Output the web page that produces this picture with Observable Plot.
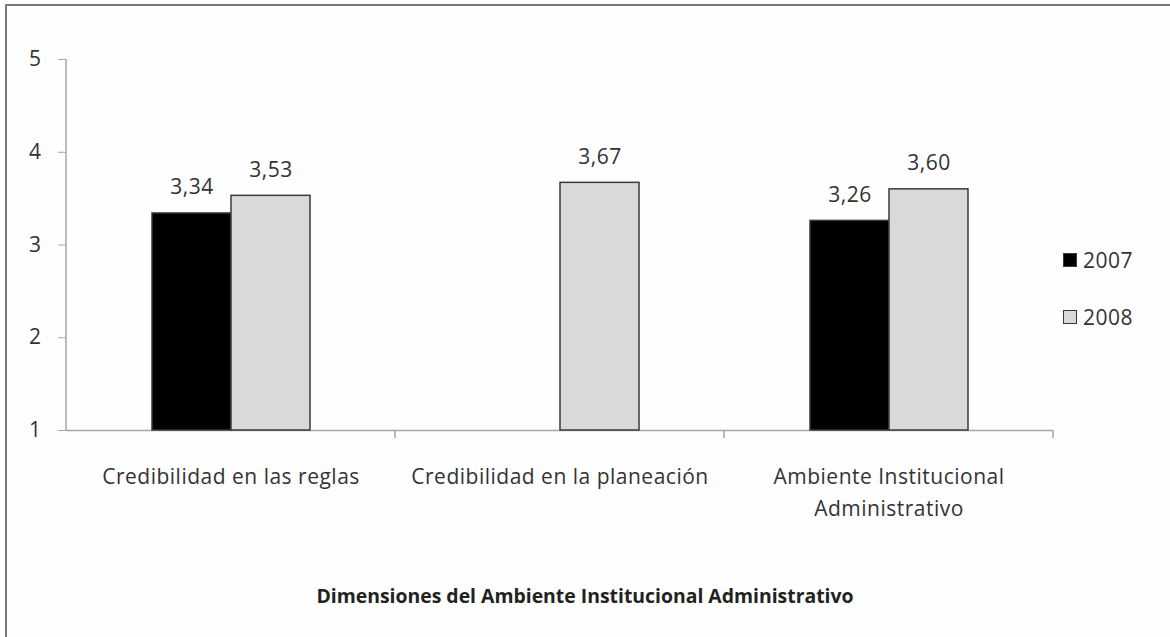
<!DOCTYPE html>
<html>
<head>
<meta charset="utf-8">
<script src="https://cdn.jsdelivr.net/npm/d3@7"></script>
<script src="https://cdn.jsdelivr.net/npm/@observablehq/plot@0.6"></script>
<style>
  html, body { margin: 0; padding: 0; background: #fefefe; }
  #wrap { position: relative; width: 1170px; height: 637px; overflow: hidden; background: #fefefe; font-family: "Open Sans", sans-serif; color: #333; }
  #border { position: absolute; left: 5px; top: 4px; width: 1200px; height: 700px; border-left: 2px solid #7a7a7a; border-top: 2px solid #7a7a7a; }
  #chart { position: absolute; left: 0; top: 0; }
  #legend { position: absolute; left: 1063px; top: 246px; font-size: 21px; letter-spacing: 0.5px; }
  .item { position: absolute; left: 0; white-space: nowrap; display: flex; align-items: center; height: 28px; }
  .sw { width: 14px; height: 14px; margin-right: 6px; box-sizing: border-box; border: 1.5px solid #3a3a3a; }
  #xtitle { position: absolute; left: 0; width: 1170px; text-align: center; top: 582px; font-size: 19.4px; font-weight: bold; color: #222; }
</style>
</head>
<body>
<div id="wrap">
  <div id="border"></div>
  <div id="chart"></div>
  <div id="legend"></div>
  <div id="xtitle"></div>
</div>
<script>
const categories = ["Credibilidad en las reglas", "Credibilidad en la planeación", "Ambiente Institucional Administrativo"];
const categoryLabels = ["Credibilidad en las reglas", "Credibilidad en la planeación", "Ambiente Institucional\nAdministrativo"];
const series = ["2007", "2008"];
const values2007 = [3.34, null, 3.26];
const values2008 = [3.53, 3.67, 3.60];
const seriesColors = ["#000000", "#d9d9d9"];
const yTicks = [1, 2, 3, 4, 5];
const yDomain = [1, 5];
const xTitle = "Dimensiones del Ambiente Institucional Administrativo";

const axisColor = "#a6a6a6";
const textColor = "#333333";

const data = [];
categories.forEach((c, i) => {
  [values2007, values2008].forEach((vals, j) => {
    if (vals[i] != null) data.push({cat: c, year: series[j], value: vals[i]});
  });
});

const fmt = v => d3.format(".2f")(v).replace(".", ",");

const chart = Plot.plot({
  width: 1170,
  height: 540,
  marginLeft: 66,
  marginRight: 117,
  marginTop: 59,
  marginBottom: 110,
  style: {fontFamily: "'Open Sans', sans-serif", fontSize: "21px", letterSpacing: "0.5px", color: textColor, background: "transparent", overflow: "visible"},
  fx: {domain: categories, padding: 0, label: null},
  x: {domain: series, paddingInner: 0, paddingOuter: 1.08, axis: null},
  y: {domain: yDomain, label: null},
  color: {domain: series, range: seriesColors},
  marks: [
    Plot.ruleY([yDomain[0]], {stroke: axisColor, strokeWidth: 1.5}),
    Plot.axisY({ticks: yTicks, tickFormat: d3.format("d"), tickSize: 8, tickPadding: 17, stroke: axisColor, fill: textColor, fontSize: 21, label: null}),
    Plot.axisFx({anchor: "bottom", tickSize: 0, tickPadding: 31, lineHeight: 1.52, fill: textColor, fontSize: 21, label: null,
      tickFormat: d => categoryLabels[categories.indexOf(d)]}),
    Plot.barY(data, {fx: "cat", x: "year", y1: () => yDomain[0], y2: "value", fill: "year", stroke: "#3a3a3a", strokeWidth: 1.5}),
    Plot.text(data, {fx: "cat", x: "year", y: "value", text: d => fmt(d.value), dy: -26, fontSize: 21, fill: textColor})
  ]
});

document.getElementById("chart").appendChild(chart);

// axis line and category boundary ticks, positioned from the plot's scales
const fx = chart.scale("fx");
const y = chart.scale("y");
const svg = d3.select(chart);
const g = svg.append("g").attr("stroke", axisColor).attr("stroke-width", 1.5);
const left = fx.apply(categories[0]);
g.append("line").attr("x1", left).attr("x2", left).attr("y1", y.apply(yDomain[0])).attr("y2", y.apply(yDomain[1]));
const bounds = categories.map(c => fx.apply(c)).concat([fx.apply(categories[categories.length - 1]) + fx.bandwidth]);
bounds.slice(1).forEach(b => {
  g.append("line").attr("x1", b).attr("x2", b).attr("y1", y.apply(yDomain[0])).attr("y2", y.apply(yDomain[0]) + 8);
});

// legend
const legend = document.getElementById("legend");
series.forEach((s, i) => {
  const item = document.createElement("div");
  item.className = "item";
  item.style.top = (i * 57) + "px";
  const sw = document.createElement("div");
  sw.className = "sw";
  sw.style.background = seriesColors[i];
  item.appendChild(sw);
  item.appendChild(document.createTextNode(s));
  legend.appendChild(item);
});

document.getElementById("xtitle").textContent = xTitle;
</script>
</body>
</html>
